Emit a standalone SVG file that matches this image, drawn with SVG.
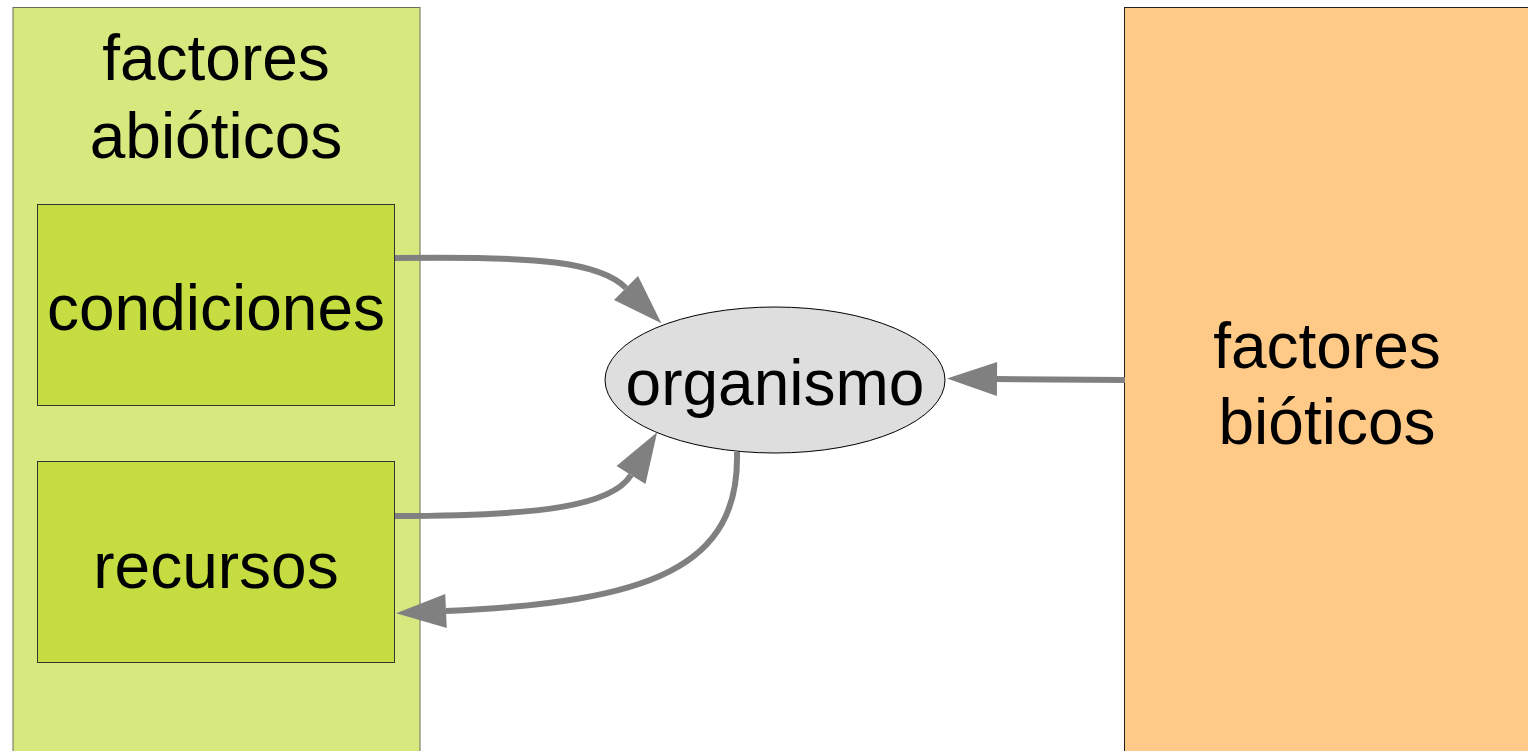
<svg xmlns="http://www.w3.org/2000/svg" width="1528" height="751" viewBox="0 0 1528 751">
<style>
text{font-family:"Liberation Sans",Arial,sans-serif;font-size:64px;fill:#000;text-anchor:middle}
.conn{fill:none;stroke:#808080;stroke-width:6}
</style>
<defs>
<marker id="ah" markerUnits="userSpaceOnUse" orient="auto" refX="0" refY="0" markerWidth="60" markerHeight="40" viewBox="0 -20 60 40" overflow="visible">
<path d="M0,-17 L50,0 L0,17 z" fill="#808080"/>
</marker>
</defs>
<rect width="1528" height="751" fill="#fff"/>
<g id="abioticos">
<rect x="13" y="7.5" width="407" height="760" fill="#d7e87f" stroke="#6b6b5a" stroke-width="1"/>
<text x="216" y="80">factores</text>
<text x="216" y="158">abióticos</text>
</g>
<g id="condiciones">
<rect x="37.5" y="204.5" width="357" height="201" fill="#c5dd41" stroke="#333" stroke-width="1"/>
<text x="216" y="330">condiciones</text>
</g>
<g id="recursos">
<rect x="37.5" y="461.5" width="357" height="201" fill="#c5dd41" stroke="#333" stroke-width="1"/>
<text x="216" y="588">recursos</text>
</g>
<g id="bioticos">
<rect x="1124.5" y="7.5" width="410" height="760" fill="#ffca88" stroke="#222" stroke-width="1"/>
<text x="1327" y="368">factores</text>
<text x="1327" y="444">bióticos</text>
</g>
<g id="organismo">
<ellipse cx="775" cy="380" rx="170" ry="73" fill="#dedede" stroke="#000" stroke-width="1"/>
<text x="775" y="405">organismo</text>
</g>
<g id="connectors">
<path class="conn" marker-end="url(#ah)" d="M395,258 C540,256 600,262 626,288"/>
<path class="conn" marker-end="url(#ah)" d="M395,516 C540,516 612,506 631,475"/>
<path class="conn" marker-end="url(#ah)" d="M737,452 C740,568 650,602 446,611"/>
<path class="conn" marker-end="url(#ah)" d="M1125,380 L997,379"/>
</g>
</svg>
